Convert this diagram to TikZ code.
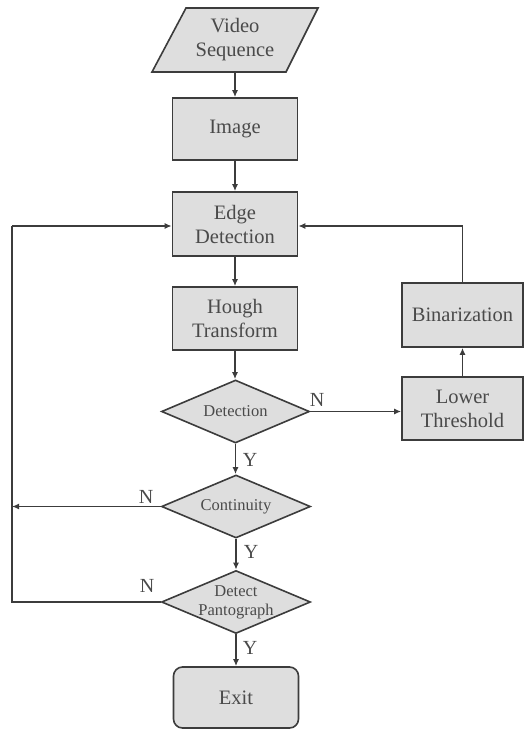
\documentclass[tikz,border=0pt]{standalone}
\usepackage{fontspec}
\setmainfont{Liberation Serif}
\usetikzlibrary{shapes.geometric,arrows.meta}
\definecolor{boxfill}{HTML}{DEDEDE}
\definecolor{linec}{HTML}{3C3C3C}
\definecolor{textc}{HTML}{4A4A4A}
\tikzset{
  procbox/.style={draw=linec, fill=boxfill, line width=1.6pt, minimum width=125pt, text width=120pt, align=center, inner sep=0pt, font=\fontsize{20.5}{24}\selectfont, text=textc},
  decbox/.style={draw=linec, fill=boxfill, line width=1.6pt, diamond, inner sep=0pt, minimum width=148pt, minimum height=63pt},
  dectext/.style={align=center, inner sep=0pt, font=\fontsize{16.5}{19}\selectfont, text=textc},
  lbl/.style={inner sep=0pt, font=\fontsize{20}{24}\selectfont, text=textc},
  conn/.style={draw=linec, line width=1.6pt, -{Latex[length=7pt,width=6pt]}},
  plain/.style={draw=linec, line width=1.6pt}
}
\begin{document}
\begin{tikzpicture}[x=1pt,y=-1pt]
\useasboundingbox (0,0) rectangle (524,731);
% video sequence parallelogram
\fill[boxfill] (186,8) -- (318,8) -- (286,72) -- (152,72) -- cycle;
\draw[linec, line width=1.6pt, line join=miter] (186,8) -- (318,8) -- (286,72) -- (152,72) -- cycle;
\node[align=center, inner sep=0pt, minimum height=64pt, font=\fontsize{20.5}{24}\selectfont, text=textc] (vid) at (235,40) {Video\\Sequence};
\node[procbox, minimum height=62pt] (img) at (235,129) {Image};
\node[procbox, minimum height=64pt] (edge) at (235,224) {Edge\\Detection};
\node[procbox, minimum height=63pt] (hough) at (235,318.5) {Hough\\Transform};
\node[decbox] (det) at (235.5,411.5) {};
\node[dectext] at (det.center) {Detection};
\node[decbox, minimum width=149pt] (cont) at (236,506.5) {};
\node[dectext] at (cont.center) {Continuity};
\node[decbox, minimum width=149pt] (pan) at (236,602) {};
\node[dectext] at (pan.center) {Detect\\Pantograph};
\node[procbox, rounded corners=9pt, minimum height=61pt] (exit) at (236,697.5) {Exit};
\node[procbox, minimum width=121pt, text width=118pt, minimum height=64pt] (bin) at (462.5,315) {Binarization};
\node[procbox, minimum width=121pt, text width=118pt, minimum height=63pt] (low) at (462.5,408.5) {Lower\\Threshold};
\coordinate (lt) at (12,226);
\coordinate (lb) at (12,602);
\coordinate (lm) at (12,506.5);
\coordinate (rt) at (462.5,226);
% connectors
\draw[conn] (vid.south) -- (img.north);
\draw[conn] (img.south) -- (edge.north);
\draw[conn] (edge.south) -- (hough.north);
\draw[conn] (hough.south) -- (hough.south |- det.north);
\draw[conn] (det.south) -- (det.south |- cont.north);
\draw[conn] (cont.south) -- (pan.north);
\draw[conn] (pan.south) -- (exit.north);
\draw[conn] (det.east) -- (det.east -| low.west);
\draw[conn] (low.north) -- (bin.south);
\draw[conn] (bin.north) -- (rt) -- (edge.east |- rt);
\draw[plain] (pan.west) -- (lb) -- (lt);
\draw[conn] (lt) -- (edge.west |- lt);
\draw[conn] (cont.west) -- (lm);
% labels
\node[lbl] at (317,400) {N};
\node[lbl] at (250,460) {Y};
\node[lbl] at (146,497) {N};
\node[lbl] at (251,552) {Y};
\node[lbl] at (147,586) {N};
\node[lbl] at (250,648) {Y};
\end{tikzpicture}
\end{document}
